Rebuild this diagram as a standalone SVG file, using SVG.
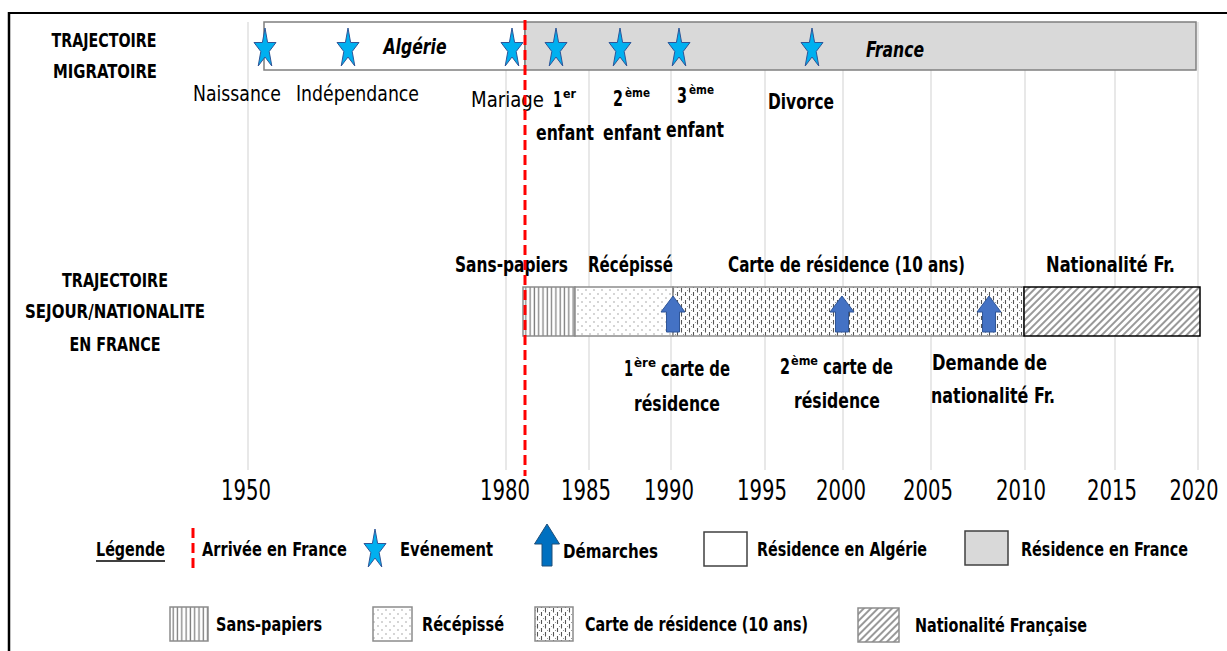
<svg xmlns="http://www.w3.org/2000/svg" xmlns:xlink="http://www.w3.org/1999/xlink" width="1227" height="651" viewBox="0 0 1227 651">
<style>
text{font-family:'Liberation Sans Narrow','DejaVu Sans Condensed','Liberation Sans',sans-serif;fill:#000}
.h{font-size:19px;font-weight:bold}
.ev{font-size:22px}
.b{font-weight:bold}
.sup{font-size:13px;font-weight:bold}
.lab{font-size:22px;font-weight:bold}
.yr{font-size:28px}
.lg{font-size:20px;font-weight:bold}
.it{font-size:22px;font-weight:bold;font-style:italic}
.grid{stroke:#d9d9d9;stroke-width:1.2}
.star{fill:#00b0f0;stroke:#2f5597;stroke-width:1}
.arr{fill:#4472c4;stroke:#2f5597;stroke-width:1}
.arrL{fill:#0070c0;stroke:#1f4e79;stroke-width:1}
.seg{stroke:#8c8c8c;stroke-width:1.5}
.red{stroke:#ff0000;stroke-width:3;stroke-dasharray:10 5;fill:none}
</style>
<defs>
<path id="star" d="M0,-21 L2.6,-6.5 L11,-6.5 L4.2,2.5 L6.8,17 L0,8 L-6.8,17 L-4.2,2.5 L-11,-6.5 L-2.6,-6.5 Z"/>
<path id="arrow" d="M0,0 L12,16 L6.5,16 L6.5,36 L-6.5,36 L-6.5,16 L-12,16 Z"/>
<pattern id="pSans" width="4.3" height="10" patternUnits="userSpaceOnUse">
<rect width="4.3" height="10" fill="#fff"/>
<line x1="1.2" y1="0" x2="1.2" y2="10" stroke="#7f7f7f" stroke-width="1.3"/>
</pattern>
<pattern id="pRec" width="8" height="8" patternUnits="userSpaceOnUse">
<rect width="8" height="8" fill="#fff"/>
<circle cx="2" cy="2" r="0.7" fill="#8c8c8c"/>
<circle cx="6" cy="6" r="0.7" fill="#8c8c8c"/>
</pattern>
<pattern id="pCarte" width="8" height="8" patternUnits="userSpaceOnUse">
<rect width="8" height="8" fill="#fff"/>
<line x1="1.5" y1="0" x2="1.5" y2="4.5" stroke="#555" stroke-width="1.1"/>
<line x1="5.5" y1="4" x2="5.5" y2="8" stroke="#555" stroke-width="1.1"/>
<circle cx="3.5" cy="6.5" r="0.5" fill="#777"/>
<circle cx="7.5" cy="2.5" r="0.5" fill="#777"/>
</pattern>
<pattern id="pNat" width="5" height="10" patternUnits="userSpaceOnUse" patternTransform="rotate(45)">
<rect width="5" height="10" fill="#fff"/>
<line x1="1" y1="0" x2="1" y2="10" stroke="#7f7f7f" stroke-width="1.6"/>
</pattern>
</defs>

<rect width="1227" height="651" fill="#fff"/>
<g id="frame">
<line x1="8" y1="13" x2="1227" y2="13" stroke="#000" stroke-width="2"/>
<line x1="9" y1="12" x2="9" y2="651" stroke="#000" stroke-width="2.5"/>
</g>

<g id="grid" class="grid">
<line x1="248" y1="22" x2="248" y2="470"/>
<line x1="506" y1="22" x2="506" y2="470"/>
<line x1="589" y1="22" x2="589" y2="470"/>
<line x1="671" y1="22" x2="671" y2="470"/>
<line x1="765" y1="22" x2="765" y2="470"/>
<line x1="843" y1="22" x2="843" y2="470"/>
<line x1="931" y1="22" x2="931" y2="470"/>
<line x1="1025" y1="22" x2="1025" y2="470"/>
<line x1="1115" y1="22" x2="1115" y2="470"/>
<line x1="1198" y1="22" x2="1198" y2="470"/>
</g>

<g id="titles">
<text class="h" x="104" y="47" text-anchor="middle" textLength="105" lengthAdjust="spacingAndGlyphs">TRAJECTOIRE</text>
<text class="h" x="105" y="78" text-anchor="middle" textLength="104" lengthAdjust="spacingAndGlyphs">MIGRATOIRE</text>
<text class="h" x="115" y="287" text-anchor="middle" textLength="106" lengthAdjust="spacingAndGlyphs">TRAJECTOIRE</text>
<text class="h" x="115" y="318" text-anchor="middle" textLength="180" lengthAdjust="spacingAndGlyphs">SEJOUR/NATIONALITE</text>
<text class="h" x="115" y="351" text-anchor="middle" textLength="91" lengthAdjust="spacingAndGlyphs">EN FRANCE</text>
</g>

<g id="residence-algerie">
<rect x="264" y="22" width="261" height="48" fill="#fff" stroke="#7f7f7f" stroke-width="1.5"/>
<text class="it" x="415" y="54" text-anchor="middle" textLength="63" lengthAdjust="spacingAndGlyphs">Algérie</text>
</g>
<g id="residence-france">
<rect x="525" y="22" width="671" height="48" fill="#d9d9d9" stroke="#7f7f7f" stroke-width="1.5"/>
<text class="it" x="895" y="57" text-anchor="middle" textLength="58" lengthAdjust="spacingAndGlyphs">France</text>
</g>

<g id="ev-naissance">
<use href="#star" x="265" y="49" class="star"/>
<text class="ev" x="193" y="101" textLength="88" lengthAdjust="spacingAndGlyphs">Naissance</text>
</g>
<g id="ev-independance">
<use href="#star" x="348" y="49" class="star"/>
<text class="ev" x="296" y="101" textLength="123" lengthAdjust="spacingAndGlyphs">Indépendance</text>
</g>
<g id="ev-mariage">
<use href="#star" x="512" y="49" class="star"/>
<text class="ev" x="471" y="107" textLength="73" lengthAdjust="spacingAndGlyphs">Mariage</text>
</g>
<g id="ev-enfant1">
<use href="#star" x="556" y="49" class="star"/>
<text class="ev b" y="107"><tspan x="553" textLength="9" lengthAdjust="spacingAndGlyphs">1</tspan><tspan class="sup" x="563" y="98" textLength="13" lengthAdjust="spacingAndGlyphs">er</tspan></text>
<text class="ev b" x="536" y="140" textLength="58" lengthAdjust="spacingAndGlyphs">enfant</text>
</g>
<g id="ev-enfant2">
<use href="#star" x="620" y="49" class="star"/>
<text class="ev b" y="106"><tspan x="613" textLength="10" lengthAdjust="spacingAndGlyphs">2</tspan><tspan class="sup" x="625" y="97" textLength="25" lengthAdjust="spacingAndGlyphs">ème</tspan></text>
<text class="ev b" x="603" y="140" textLength="58" lengthAdjust="spacingAndGlyphs">enfant</text>
</g>
<g id="ev-enfant3">
<use href="#star" x="679" y="49" class="star"/>
<text class="ev b" y="103"><tspan x="677" textLength="10" lengthAdjust="spacingAndGlyphs">3</tspan><tspan class="sup" x="689" y="94" textLength="25" lengthAdjust="spacingAndGlyphs">ème</tspan></text>
<text class="ev b" x="666" y="137" textLength="58" lengthAdjust="spacingAndGlyphs">enfant</text>
</g>
<g id="ev-divorce">
<use href="#star" x="812" y="49" class="star"/>
<text class="ev b" x="768" y="109" textLength="66" lengthAdjust="spacingAndGlyphs">Divorce</text>
</g>

<g id="seg-sans-papiers">
<rect x="523" y="287" width="52" height="49" fill="url(#pSans)" class="seg"/>
<text class="lab" x="455" y="272" textLength="113" lengthAdjust="spacingAndGlyphs">Sans-papiers</text>
</g>
<g id="seg-recepisse">
<rect x="575" y="287" width="98" height="49" fill="url(#pRec)" class="seg"/>
<text class="lab" x="588" y="272" textLength="85" lengthAdjust="spacingAndGlyphs">Récépissé</text>
</g>
<g id="seg-carte">
<rect x="673" y="287" width="351" height="49" fill="url(#pCarte)" class="seg"/>
<text class="lab" x="728" y="272" textLength="237" lengthAdjust="spacingAndGlyphs">Carte de résidence (10 ans)</text>
</g>
<g id="seg-nationalite">
<rect x="1024" y="287" width="176" height="49" fill="url(#pNat)" stroke="#000" stroke-width="1.5"/>
<text class="lab" x="1046" y="272" textLength="129" lengthAdjust="spacingAndGlyphs">Nationalité Fr.</text>
</g>

<g id="dem-carte1">
<use href="#arrow" x="673" y="296" class="arr"/>
<text class="lab" y="376"><tspan x="624" textLength="9" lengthAdjust="spacingAndGlyphs">1</tspan><tspan class="sup" x="634" y="367" textLength="22" lengthAdjust="spacingAndGlyphs">ère</tspan><tspan x="661" y="376" textLength="69" lengthAdjust="spacingAndGlyphs">carte de</tspan></text>
<text class="lab" x="634" y="411" textLength="86" lengthAdjust="spacingAndGlyphs">résidence</text>
</g>
<g id="dem-carte2">
<use href="#arrow" x="842" y="296" class="arr"/>
<text class="lab" y="374"><tspan x="780" textLength="10" lengthAdjust="spacingAndGlyphs">2</tspan><tspan class="sup" x="791" y="365" textLength="27" lengthAdjust="spacingAndGlyphs">ème</tspan><tspan x="823" y="374" textLength="70" lengthAdjust="spacingAndGlyphs">carte de</tspan></text>
<text class="lab" x="794" y="408" textLength="86" lengthAdjust="spacingAndGlyphs">résidence</text>
</g>
<g id="dem-nationalite">
<use href="#arrow" x="989" y="296" class="arr"/>
<text class="lab" x="932" y="370" textLength="115" lengthAdjust="spacingAndGlyphs">Demande de</text>
<text class="lab" x="931" y="403" textLength="124" lengthAdjust="spacingAndGlyphs">nationalité Fr.</text>
</g>

<g id="axis-years">
<text class="yr" x="246" y="500" text-anchor="middle" textLength="50" lengthAdjust="spacingAndGlyphs">1950</text>
<text class="yr" x="505" y="500" text-anchor="middle" textLength="50" lengthAdjust="spacingAndGlyphs">1980</text>
<text class="yr" x="586" y="500" text-anchor="middle" textLength="50" lengthAdjust="spacingAndGlyphs">1985</text>
<text class="yr" x="669" y="500" text-anchor="middle" textLength="50" lengthAdjust="spacingAndGlyphs">1990</text>
<text class="yr" x="762" y="500" text-anchor="middle" textLength="50" lengthAdjust="spacingAndGlyphs">1995</text>
<text class="yr" x="841" y="500" text-anchor="middle" textLength="50" lengthAdjust="spacingAndGlyphs">2000</text>
<text class="yr" x="928" y="500" text-anchor="middle" textLength="50" lengthAdjust="spacingAndGlyphs">2005</text>
<text class="yr" x="1021" y="500" text-anchor="middle" textLength="50" lengthAdjust="spacingAndGlyphs">2010</text>
<text class="yr" x="1112" y="500" text-anchor="middle" textLength="50" lengthAdjust="spacingAndGlyphs">2015</text>
<text class="yr" x="1194" y="500" text-anchor="middle" textLength="49" lengthAdjust="spacingAndGlyphs">2020</text>
</g>

<g id="connectors">
<line id="arrivee" class="red" x1="525" y1="20" x2="525" y2="476"/>
</g>

<g id="legend">
<text class="lg" x="96" y="556" textLength="69" lengthAdjust="spacingAndGlyphs">Légende</text>
<line x1="96" y1="561" x2="165" y2="561" stroke="#000" stroke-width="1.5"/>
<line class="red" x1="193" y1="528" x2="193" y2="572"/>
<text class="lg" x="202" y="556" textLength="145" lengthAdjust="spacingAndGlyphs">Arrivée en France</text>
<use href="#star" x="375" y="550" class="star"/>
<text class="lg" x="400" y="556" textLength="93" lengthAdjust="spacingAndGlyphs">Evénement</text>
<path class="arrL" d="M547,524 L559.5,544 L552,544 L552,566 L542,566 L542,544 L534.5,544 Z"/>
<text class="lg" x="563" y="558" textLength="95" lengthAdjust="spacingAndGlyphs">Démarches</text>
<rect x="704" y="532" width="43" height="34" fill="#fff" stroke="#404040" stroke-width="1.5"/>
<text class="lg" x="757" y="556" textLength="170" lengthAdjust="spacingAndGlyphs">Résidence en Algérie</text>
<rect x="965" y="531" width="43" height="34" fill="#d9d9d9" stroke="#404040" stroke-width="1.5"/>
<text class="lg" x="1021" y="556" textLength="167" lengthAdjust="spacingAndGlyphs">Résidence en France</text>

<rect x="170" y="607" width="38" height="34" fill="url(#pSans)" class="seg"/>
<text class="lg" x="216" y="631" textLength="106" lengthAdjust="spacingAndGlyphs">Sans-papiers</text>
<rect x="373" y="607" width="39" height="34" fill="url(#pRec)" class="seg"/>
<text class="lg" x="422" y="631" textLength="82" lengthAdjust="spacingAndGlyphs">Récépissé</text>
<rect x="535" y="607" width="38" height="34" fill="url(#pCarte)" class="seg"/>
<text class="lg" x="585" y="631" textLength="223" lengthAdjust="spacingAndGlyphs">Carte de résidence (10 ans)</text>
<rect x="858" y="608" width="41" height="34" fill="url(#pNat)" class="seg"/>
<text class="lg" x="915" y="632" textLength="172" lengthAdjust="spacingAndGlyphs">Nationalité Française</text>
</g>
</svg>
